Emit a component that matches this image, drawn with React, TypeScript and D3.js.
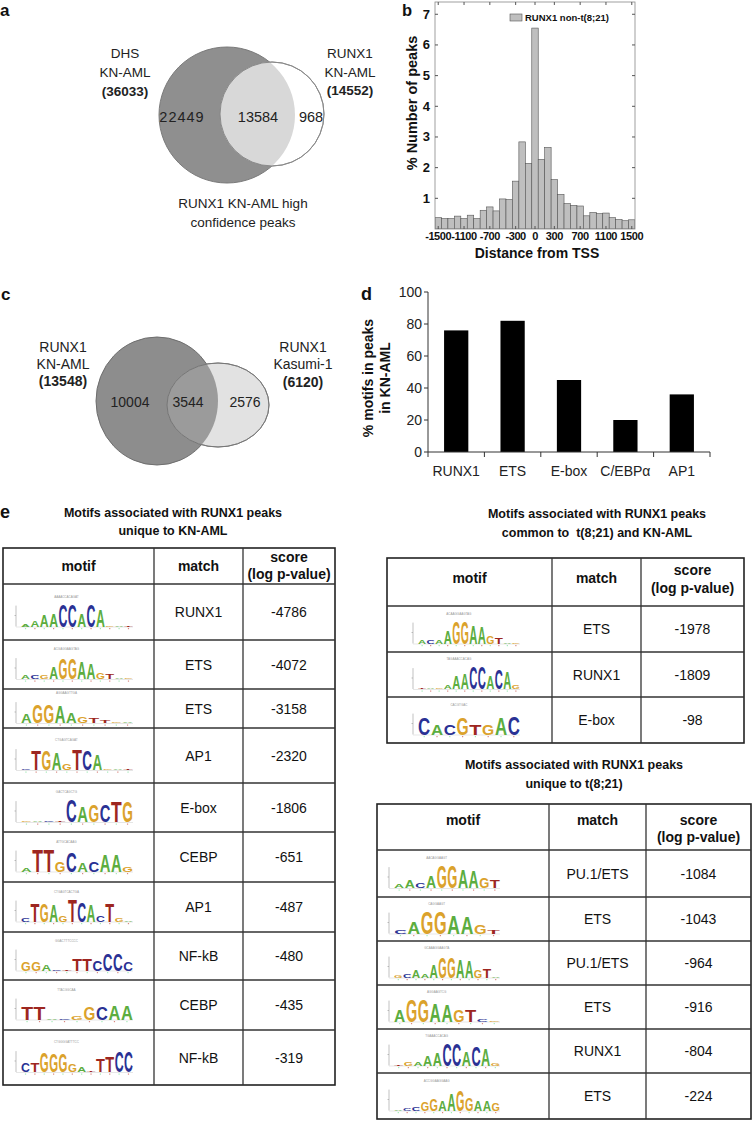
import React from "react";
import * as d3 from "d3";

// ---- panel a / c : venn counts ----
const vennALeftLabel = ["DHS", "KN-AML"];
const vennALeftTotal = 36033;
const vennARightLabel = ["RUNX1", "KN-AML"];
const vennARightTotal = 14552;
const vennACounts = [22449, 13584, 968];
const vennACaption = ["RUNX1 KN-AML high", "confidence peaks"];

const vennCLeftLabel = ["RUNX1", "KN-AML"];
const vennCLeftTotal = 13548;
const vennCRightLabel = ["RUNX1", "Kasumi-1"];
const vennCRightTotal = 6120;
const vennCCounts = [10004, 3544, 2576];

// ---- panel b : distance from TSS histogram ----
const histBins = [
  -1500, -1400, -1300, -1200, -1100, -1000, -900, -800, -700, -600, -500, -400,
  -300, -200, -100, 0, 100, 200, 300, 400, 500, 600, 700, 800, 900, 1000, 1100,
  1200, 1300, 1400, 1500,
];
const histPercent = [
  0.37, 0.34, 0.34, 0.42, 0.34, 0.45, 0.34, 0.61, 0.72, 0.59, 0.98, 0.96, 1.56,
  2.84, 2.14, 6.55, 2.27, 2.66, 1.61, 1.13, 0.83, 0.77, 0.75, 0.43, 0.54, 0.5,
  0.52, 0.37, 0.31, 0.27, 0.3,
];
const histXTicks = [-1500, -1100, -700, -300, 0, 300, 700, 1100, 1500];
const histYTicks = [1, 2, 3, 4, 5, 6, 7];
const histLegend = "RUNX1 non-t(8;21)";

// ---- panel d : motifs in peaks ----
const motifCats = ["RUNX1", "ETS", "E-box", "C/EBPα", "AP1"];
const motifPct = [76, 82, 45, 20, 36];
const motifYTicks = [0, 20, 40, 60, 80, 100];

// ---- panel e : motif tables ----
type Col = [string, number];

const knMatch = ["RUNX1", "ETS", "ETS", "AP1", "E-box", "CEBP", "AP1", "NF-kB", "CEBP", "NF-kB"];
const knScore = [-4786, -4072, -3158, -2320, -1806, -651, -487, -480, -435, -319];
const knLogos: Col[][] = [
  [["A", 0.12], ["A", 0.3], ["A", 0.55], ["A", 0.6], ["C", 1], ["C", 1], ["A", 0.6], ["C", 1], ["A", 0.8], ["G", 0.08], ["A", 0.05], ["T", 0.03]],
  [["A", 0.15], ["C", 0.15], ["G", 0.18], ["A", 0.55], ["G", 0.95], ["G", 0.95], ["A", 0.8], ["A", 0.7], ["G", 0.3], ["T", 0.25], ["A", 0.05], ["G", 0.05]],
  [["A", 0.4], ["G", 0.85], ["G", 0.85], ["A", 0.75], ["A", 0.45], ["G", 0.3], ["T", 0.25], ["T", 0.1], ["G", 0.05], ["A", 0.05]],
  [["C", 0.05], ["T", 0.9], ["G", 0.9], ["A", 0.75], ["G", 0.3], ["T", 0.95], ["C", 0.9], ["A", 0.7], ["G", 0.05], ["A", 0.05], ["T", 0.03]],
  [["G", 0.04], ["A", 0.04], ["C", 0.04], ["T", 0.04], ["C", 1], ["A", 0.7], ["G", 0.75], ["C", 0.75], ["T", 0.95], ["G", 0.95]],
  [["A", 0.2], ["T", 1], ["T", 1], ["G", 0.45], ["C", 0.9], ["A", 0.4], ["C", 0.45], ["A", 0.8], ["A", 0.8], ["G", 0.25]],
  [["C", 0.2], ["T", 0.85], ["G", 0.85], ["A", 0.75], ["G", 0.3], ["T", 1], ["C", 0.9], ["A", 0.75], ["C", 0.3], ["T", 0.85], ["G", 0.15], ["A", 0.05]],
  [["G", 0.4], ["G", 0.4], ["A", 0.3], ["C", 0.03], ["T", 0.03], ["T", 0.55], ["T", 0.55], ["C", 0.45], ["C", 0.75], ["C", 0.75], ["C", 0.4]],
  [["T", 0.6], ["T", 0.6], ["A", 0.05], ["C", 0.05], ["G", 0.2], ["G", 0.6], ["C", 0.6], ["A", 0.65], ["A", 0.65]],
  [["C", 0.4], ["T", 0.4], ["G", 0.9], ["G", 0.85], ["G", 0.85], ["G", 0.35], ["A", 0.25], ["T", 0.05], ["T", 0.6], ["T", 0.7], ["C", 0.95], ["C", 0.95]],
];

const commonMatch = ["ETS", "RUNX1", "E-box"];
const commonScore = [-1978, -1809, -98];
const commonLogos: Col[][] = [
  [["A", 0.2], ["C", 0.15], ["A", 0.2], ["A", 0.6], ["G", 1], ["G", 1], ["A", 0.85], ["A", 0.8], ["G", 0.35], ["T", 0.3], ["A", 0.05], ["G", 0.05]],
  [["T", 0.02], ["A", 0.02], ["G", 0.05], ["A", 0.2], ["A", 0.6], ["A", 0.7], ["C", 1], ["C", 1], ["A", 0.6], ["C", 0.9], ["A", 0.75], ["G", 0.15]],
  [["C", 0.8], ["A", 0.45], ["C", 0.45], ["G", 0.8], ["T", 0.5], ["G", 0.5], ["A", 0.8], ["C", 0.85]],
];

const t821Match = ["PU.1/ETS", "ETS", "PU.1/ETS", "ETS", "RUNX1", "ETS"];
const t821Score = [-1084, -1043, -964, -916, -804, -224];
const t821Logos: Col[][] = [
  [["A", 0.2], ["A", 0.35], ["C", 0.25], ["A", 0.55], ["G", 1], ["G", 1], ["A", 0.85], ["A", 0.8], ["G", 0.45], ["T", 0.35]],
  [["C", 0.15], ["A", 0.55], ["G", 1], ["G", 1], ["A", 0.85], ["A", 0.75], ["G", 0.4], ["T", 0.2]],
  [["G", 0.1], ["C", 0.15], ["A", 0.35], ["A", 0.15], ["A", 0.6], ["G", 0.95], ["G", 0.95], ["A", 0.85], ["A", 0.8], ["G", 0.35], ["T", 0.4], ["A", 0.05]],
  [["A", 0.55], ["G", 1], ["G", 1], ["A", 0.85], ["A", 0.8], ["G", 0.55], ["T", 0.55], ["C", 0.1], ["G", 0.05]],
  [["T", 0.02], ["G", 0.2], ["A", 0.2], ["A", 0.5], ["A", 0.6], ["C", 1], ["C", 1], ["A", 0.65], ["C", 0.9], ["A", 0.75], ["G", 0.1]],
  [["A", 0.05], ["C", 0.1], ["C", 0.15], ["G", 0.4], ["G", 0.55], ["A", 0.45], ["A", 0.8], ["G", 0.95], ["G", 0.6], ["A", 0.5], ["A", 0.5], ["G", 0.35]],
];

const FONT = "'Liberation Sans', Arial, Helvetica, sans-serif";
const BASE_COLOR: Record<string, string> = { A: "#5cad3f", C: "#2a3194", G: "#dba22c", T: "#9d2620" };
const BASE_ADV: Record<string, number> = { A: 0.722, C: 0.722, G: 0.778, T: 0.611 };

function Logo({ data, x0, baseline, width, maxH }: { data: Col[]; x0: number; baseline: number; width: number; maxH: number }) {
  const xs = d3.scaleBand<number>().domain(d3.range(data.length)).range([x0 + 5, x0 + 5 + width]).paddingInner(0.03);
  const hs = d3.scaleLinear().domain([0, 1]).range([0, maxH]);
  const fs = 20;
  return (
    <g>
      <text x={x0 + width * 0.45} y={baseline - maxH - 7} fontSize={3} fill="#999" textAnchor="middle" fontFamily={FONT}>
        {data.map((d) => d[0]).join("")}
      </text>
      <line x1={x0} x2={x0} y1={baseline - maxH * 0.95} y2={baseline} stroke="#999" strokeWidth={0.6} />
      <line x1={x0 - 1.5} x2={x0} y1={baseline - maxH * 0.5} y2={baseline - maxH * 0.5} stroke="#999" strokeWidth={0.6} />
      <line x1={x0} x2={x0 + 5 + width} y1={baseline + 0.5} y2={baseline + 0.5} stroke="#ccc" strokeWidth={0.5} />
      {data.map((d, i) => (
        <rect key={"t" + i} x={(xs(i) as number) + xs.bandwidth() / 2 - 0.6} y={baseline + 1.5} width={1.2} height={1.2} fill={i % 2 ? "#c0392b" : "#6d8"} opacity={0.6} />
      ))}
      {data.map(([b, h], i) => {
        const bw = xs.bandwidth();
        const ph = Math.max(0.7, hs(h));
        const sx = (bw * 0.98) / (BASE_ADV[b] * fs);
        const sy = ph / (0.716 * fs);
        const cx = (xs(i) as number) + bw / 2;
        return (
          <text
            key={i}
            transform={`translate(${cx},${baseline}) scale(${sx},${sy})`}
            fontSize={fs}
            fontWeight="bold"
            fontFamily={FONT}
            textAnchor="middle"
            fill={BASE_COLOR[b]}
          >
            {b}
          </text>
        );
      })}
    </g>
  );
}

type TableProps = {
  cols: number[];
  headerTop: number;
  rowBounds: number[];
  matches: string[];
  scores: number[];
  logos: Col[][];
  logoX: number;
  logoW: number;
  hMotifY: number;
  hScoreY: [number, number];
};

function MotifTable({ cols, headerTop, rowBounds, matches, scores, logos, logoX, logoW, hMotifY, hScoreY }: TableProps) {
  const [c0, c1, c2, c3] = cols;
  const bottom = rowBounds[rowBounds.length - 1];
  const mid = (a: number, b: number) => (a + b) / 2;
  return (
    <g fontFamily={FONT}>
      <rect x={c0} y={headerTop} width={c3 - c0} height={bottom - headerTop} fill="#fff" stroke="#222" strokeWidth={1.6} />
      <line x1={c1} x2={c1} y1={headerTop} y2={bottom} stroke="#333" strokeWidth={1.3} />
      <line x1={c2} x2={c2} y1={headerTop} y2={bottom} stroke="#333" strokeWidth={1.3} />
      {rowBounds.slice(0, -1).map((y, i) => (
        <line key={i} x1={c0} x2={c3} y1={y} y2={y} stroke="#333" strokeWidth={1.3} />
      ))}
      <g fontWeight="bold" fontSize={14} textAnchor="middle" fill="#111">
        <text x={mid(c0, c1)} y={hMotifY}>motif</text>
        <text x={mid(c1, c2)} y={hMotifY}>match</text>
        <text x={mid(c2, c3)} y={hScoreY[0]}>score</text>
        <text x={mid(c2, c3)} y={hScoreY[1]}>(log p-value)</text>
      </g>
      {matches.map((m, i) => {
        const yc = mid(rowBounds[i], rowBounds[i + 1]);
        return (
          <g key={i}>
            <text x={mid(c1, c2)} y={yc + 5} fontSize={14} textAnchor="middle" fill="#111">{m}</text>
            <text x={mid(c2, c3)} y={yc + 5} fontSize={14} textAnchor="middle" fill="#111">{scores[i]}</text>
            <Logo data={logos[i]} x0={logoX} baseline={yc + 14.5} width={logoW} maxH={22} />
          </g>
        );
      })}
    </g>
  );
}

function PanelLabel({ x, y, t, size = 17 }: { x: number; y: number; t: string; size?: number }) {
  return (
    <text x={x} y={y} fontSize={size} fontWeight="bold" fontFamily={FONT} fill="#111">{t}</text>
  );
}

export default function App() {
  // histogram scales
  const hx = d3.scaleLinear().domain([-1550, 1550]).range([435, 635]);
  const hy = d3.scaleLinear().domain([0, 7.4]).range([229, 2]);
  // bar chart scales
  const dx = d3.scaleBand().domain(motifCats).range([428, 710]).paddingInner(0.57).paddingOuter(0.285);
  const dy = d3.scaleLinear().domain([0, 100]).range([452, 292]);
  const dStep = dx.step();

  return (
    <svg width={753} height={1121} style={{ position: "absolute", left: 0, top: 0, background: "#fff" }} fontFamily={FONT}>
      <rect width={753} height={1121} fill="#fff" />
      {/* ---------- a ---------- */}
      <PanelLabel x={0} y={16} t="a" />
      <defs>
        <clipPath id="clipA"><circle cx={272} cy={114} r={52} /></clipPath>
        <clipPath id="clipC"><ellipse cx={218} cy={405} rx={51} ry={42} /></clipPath>
        <clipPath id="clipB"><rect x={435} y={2} width={200} height={227} /></clipPath>
      </defs>
      <circle cx={227} cy={115} r={68} fill="#8f8f8f" stroke="#7a7a7a" strokeWidth={1} />
      <circle cx={272} cy={114} r={52} fill="#fff" stroke="#8a8a8a" strokeWidth={1} />
      <circle cx={227} cy={115} r={68} fill="#d8d8d8" clipPath="url(#clipA)" />
      <circle cx={272} cy={114} r={52} fill="none" stroke="#8a8a8a" strokeWidth={1} />
      <g fontSize={13.5} textAnchor="middle" fill="#222">
        {vennALeftLabel.map((t, i) => <text key={i} x={125} y={58 + i * 19}>{t}</text>)}
        <text x={125} y={96} fontWeight="bold">({vennALeftTotal})</text>
        {vennARightLabel.map((t, i) => <text key={i} x={350} y={58 + i * 19}>{t}</text>)}
        <text x={350} y={95} fontWeight="bold">({vennARightTotal})</text>
        <g fontSize={14.5}>
          <text x={182} y={122} letterSpacing={1}>{vennACounts[0]}</text>
          <text x={258} y={122}>{vennACounts[1]}</text>
          <text x={311} y={122}>{vennACounts[2]}</text>
        </g>
        {vennACaption.map((t, i) => <text key={i} x={243} y={208 + i * 19}>{t}</text>)}
      </g>

      {/* ---------- b ---------- */}
      <PanelLabel x={402} y={16} t="b" size={16.5} />
      <g clipPath="url(#clipB)">
        {histBins.map((c, i) => (
          <rect
            key={i}
            x={hx(c - 50)}
            y={hy(histPercent[i])}
            width={hx(c + 50) - hx(c - 50)}
            height={hy(0) - hy(histPercent[i])}
            fill="#bfbfbf"
            stroke="#555"
            strokeWidth={0.6}
          />
        ))}
      </g>
      <rect x={435} y={2} width={200} height={227} fill="none" stroke="#888" strokeWidth={0.8} />
      {histYTicks.map((t) => (
        <g key={t}>
          <line x1={435} x2={438} y1={hy(t)} y2={hy(t)} stroke="#555" />
          <line x1={632} x2={635} y1={hy(t)} y2={hy(t)} stroke="#555" />
          <text x={430} y={hy(t) + 4.5} fontSize={13} fontWeight="bold" textAnchor="end" fill="#111">{t}</text>
        </g>
      ))}
      {histXTicks.map((t) => (
        <g key={t}>
          <line x1={hx(t)} x2={hx(t)} y1={229} y2={226} stroke="#555" />
          <line x1={hx(t)} x2={hx(t)} y1={2} y2={5} stroke="#555" />
          <text x={hx(t)} y={240} fontSize={11} fontWeight="bold" textAnchor="middle" fill="#111" letterSpacing={-0.4}>{t}</text>
        </g>
      ))}
      <rect x={510} y={14} width={12} height={7} fill="#bfbfbf" stroke="#555" strokeWidth={0.6} />
      <text x={525} y={21} fontSize={9.5} fontWeight="bold" fill="#111">{histLegend}</text>
      <text transform="translate(417,103) rotate(-90)" fontSize={14.5} fontWeight="bold" textAnchor="middle" fill="#111">% Number of peaks</text>
      <text x={537} y={258} fontSize={14} fontWeight="bold" textAnchor="middle" fill="#111">Distance from TSS</text>

      {/* ---------- c ---------- */}
      <PanelLabel x={1} y={300} t="c" />
      <ellipse cx={157} cy={401} rx={61} ry={64} fill="#8d8d8d" stroke="#6e6e6e" strokeWidth={1} />
      <ellipse cx={218} cy={405} rx={51} ry={42} fill="#e2e2e2" stroke="#8a8a8a" strokeWidth={1} />
      <ellipse cx={157} cy={401} rx={61} ry={64} fill="#9b9b9b" clipPath="url(#clipC)" />
      <ellipse cx={218} cy={405} rx={51} ry={42} fill="none" stroke="#777" strokeWidth={1} />
      <g fontSize={14} textAnchor="middle" fill="#222">
        {vennCLeftLabel.map((t, i) => <text key={i} x={63} y={352 + i * 17}>{t}</text>)}
        <text x={63} y={386} fontWeight="bold">({vennCLeftTotal})</text>
        {vennCRightLabel.map((t, i) => <text key={i} x={303} y={352 + i * 17}>{t}</text>)}
        <text x={303} y={387} fontWeight="bold">({vennCRightTotal})</text>
        <text x={130} y={407}>{vennCCounts[0]}</text>
        <text x={188} y={407}>{vennCCounts[1]}</text>
        <text x={245} y={407}>{vennCCounts[2]}</text>
      </g>

      {/* ---------- d ---------- */}
      <PanelLabel x={361} y={300} t="d" size={18} />
      {motifCats.map((c, i) => (
        <rect key={c} x={dx(c)} y={dy(motifPct[i])} width={dx.bandwidth()} height={dy(0) - dy(motifPct[i])} fill="#000" />
      ))}
      <line x1={428} x2={428} y1={dy(100)} y2={dy(0)} stroke="#333" strokeWidth={1} />
      <line x1={428} x2={710} y1={dy(0)} y2={dy(0)} stroke="#333" strokeWidth={1} />
      {motifYTicks.map((t) => (
        <g key={t}>
          <line x1={424} x2={428} y1={dy(t)} y2={dy(t)} stroke="#333" />
          <text x={422} y={dy(t) + 5} fontSize={14} textAnchor="end" fill="#222">{t}</text>
        </g>
      ))}
      {d3.range(motifCats.length + 1).map((i) => (
        <line key={i} x1={428 + i * dStep} x2={428 + i * dStep} y1={dy(0)} y2={dy(0) + 5} stroke="#333" />
      ))}
      {motifCats.map((c) => (
        <text key={c} x={(dx(c) as number) + dx.bandwidth() / 2} y={476} fontSize={14} textAnchor="middle" fill="#222">{c}</text>
      ))}
      <text transform="translate(373,378) rotate(-90)" fontSize={14} fontWeight="bold" textAnchor="middle" fill="#111">% motifs in peaks</text>
      <text transform="translate(390,378) rotate(-90)" fontSize={14} fontWeight="bold" textAnchor="middle" fill="#111">in KN-AML</text>

      {/* ---------- e ---------- */}
      <PanelLabel x={0} y={518} t="e" size={18} />
      <g fontSize={12.5} fontWeight="bold" textAnchor="middle" fill="#111">
        <text x={173} y={517}>Motifs associated with RUNX1 peaks</text>
        <text x={173} y={535}>unique to KN-AML</text>
        <text x={597} y={518}>Motifs associated with RUNX1 peaks</text>
        <text x={597} y={537} style={{ whiteSpace: "pre" }}>{"common to  t(8;21) and KN-AML"}</text>
        <text x={574} y={769}>Motifs associated with RUNX1 peaks</text>
        <text x={574} y={788}>unique to t(8;21)</text>
      </g>
      <MotifTable
        cols={[3, 154, 243, 335]}
        headerTop={548}
        rowBounds={[584, 640, 689, 728, 783, 832, 882, 932, 980, 1030, 1085]}
        matches={knMatch}
        scores={knScore}
        logos={knLogos}
        logoX={16}
        logoW={112}
        hMotifY={571}
        hScoreY={[562, 579]}
      />
      <MotifTable
        cols={[387, 552, 641, 744]}
        headerTop={558}
        rowBounds={[606, 652, 697, 743]}
        matches={commonMatch}
        scores={commonScore}
        logos={commonLogos}
        logoX={413}
        logoW={102}
        hMotifY={583}
        hScoreY={[575, 593]}
      />
      <MotifTable
        cols={[377, 549, 646, 751]}
        headerTop={804}
        rowBounds={[850, 897, 941, 985, 1029, 1073, 1119]}
        matches={t821Match}
        scores={t821Score}
        logos={t821Logos}
        logoX={389}
        logoW={106}
        hMotifY={825}
        hScoreY={[825, 842]}
      />
    </svg>
  );
}
